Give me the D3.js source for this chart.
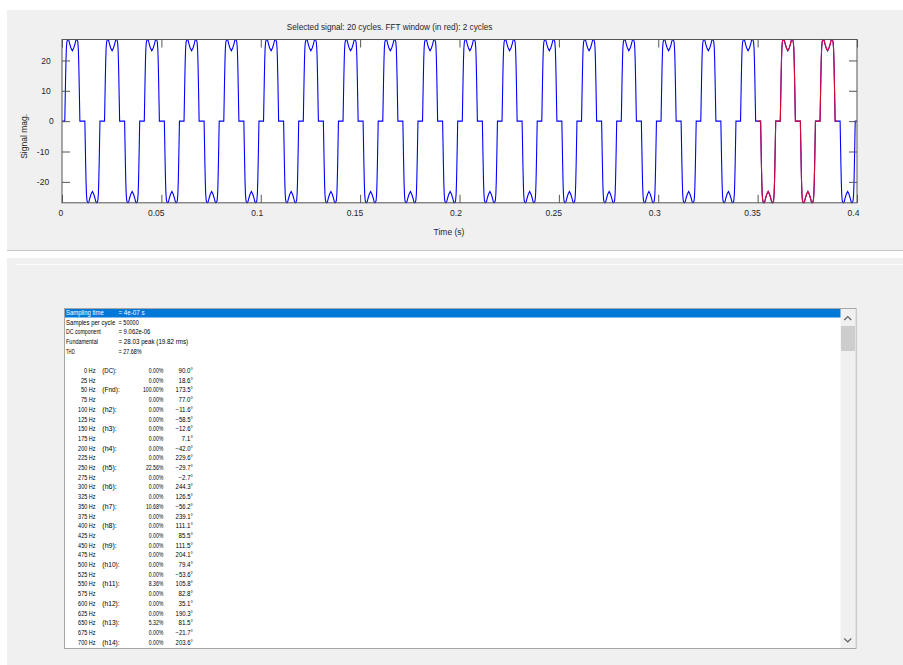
<!DOCTYPE html>
<html>
<head>
<meta charset="utf-8">
<script src="https://cdn.jsdelivr.net/npm/d3@7"></script>
<style>
body { margin: 0; background: #fff; }
svg { display: block; }
text { font-family: "Liberation Sans", Arial, sans-serif; fill: #262626; }
.lb text { font-family: "Liberation Sans", Arial, sans-serif; fill: #000; }
</style>
</head>
<body>
<script>
// one 50 Hz cycle: time into the cycle (ms) and value
var cycleMs  = [0, 1.4, 1.6, 1.8, 2.0, 2.2, 2.45, 2.8, 3.15, 3.5, 3.9, 4.5, 5.2, 5.9, 6.5, 6.9, 7.25, 7.6, 7.95, 8.2, 8.4, 8.6, 8.8, 9.0,
                10,
                11.5, 11.7, 11.9, 12.1, 12.3, 12.55, 12.9, 13.25, 13.6, 14.0, 14.6, 15.3, 16.0, 16.6, 17.0, 17.35, 17.7, 18.05, 18.3, 18.5, 18.7, 18.9, 19.1,
                20];
var cycleVal = [0, 0, 7, 14, 20, 24, 26.1, 26.8, 26.9, 26.5, 25.4, 24.1, 23.2, 24.1, 25.4, 26.5, 26.9, 26.8, 26.1, 24, 20, 14, 7, 0,
                0,
                0, -7, -14, -20, -24, -26.1, -26.8, -26.9, -26.5, -25.4, -24.1, -23.2, -24.1, -25.4, -26.5, -26.9, -26.8, -26.1, -24, -20, -14, -7, 0,
                0];
// start time of each of the 20 selected cycles (s)
var cycleStarts = [0, 0.02, 0.04, 0.06, 0.08, 0.10, 0.12, 0.14, 0.16, 0.18,
                   0.20, 0.22, 0.24, 0.26, 0.28, 0.30, 0.32, 0.34, 0.36, 0.38];
var fftWindow = [0.35, 0.39];

var xTicks = [0, 0.05, 0.1, 0.15, 0.2, 0.25, 0.3, 0.35, 0.4];
var yTicks = [-20, -10, 0, 10, 20];
var titleText = "Selected signal: 20 cycles. FFT window (in red): 2 cycles";

// listbox contents
var headerLabels = ["Sampling time", "Samples per cycle", "DC component", "Fundamental", "THD"];
var headerValues = ["= 4e-07 s", "= 50000", "= 9.062e-06", "= 28.03 peak (19.82 rms)", "= 27.68%"];
var freqs = [0, 25, 50, 75, 100, 125, 150, 175, 200, 225, 250, 275, 300, 325, 350,
             375, 400, 425, 450, 475, 500, 525, 550, 575, 600, 625, 650, 675, 700];
var harmLabels = ["(DC):", "", "(Fnd):", "", "(h2):", "", "(h3):", "", "(h4):", "", "(h5):", "", "(h6):", "", "(h7):",
                  "", "(h8):", "", "(h9):", "", "(h10):", "", "(h11):", "", "(h12):", "", "(h13):", "", "(h14):"];
var magPct = [0, 0, 100, 0, 0, 0, 0, 0, 0, 0, 22.56, 0, 0, 0, 10.68,
              0, 0, 0, 0, 0, 0, 0, 8.36, 0, 0, 0, 5.32, 0, 0];
var phaseDeg = [90.0, 18.6, 173.5, 77.0, -11.6, -58.5, -12.6, 7.1, -42.0, 229.6, -29.7, -2.7, 244.3, 126.5, -56.2,
                239.1, 111.1, 85.5, 111.5, 204.1, 79.4, -53.6, 105.8, 82.8, 35.1, 190.3, 81.5, -21.7, 203.6];

var W = 903, H = 665;
var svg = d3.select("body").append("svg").attr("width", W).attr("height", H);

// window panels
svg.append("rect").attr("x", 7).attr("y", 10).attr("width", W - 7).attr("height", 240).attr("fill", "#f0f0f0");
svg.append("line").attr("x1", 7).attr("x2", W).attr("y1", 250.5).attr("y2", 250.5).attr("stroke", "#c8c8c8");
svg.append("rect").attr("x", 7).attr("y", 258).attr("width", W - 7).attr("height", H - 258).attr("fill", "#f0f0f0");
svg.append("line").attr("x1", 15).attr("x2", W).attr("y1", 264.5).attr("y2", 264.5).attr("stroke", "#fbfbfb");

// axes
var ax = {left: 62, right: 857, top: 39.5, bottom: 202.8};
var x = d3.scaleLinear().domain([0, 0.4]).range([ax.left, ax.right]);
var y = d3.scaleLinear().domain([-26.9, 26.9]).range([ax.bottom, ax.top]);

svg.append("rect").attr("x", ax.left).attr("y", ax.top)
    .attr("width", ax.right - ax.left).attr("height", ax.bottom - ax.top).attr("fill", "#fff");

var signal = [];
cycleStarts.forEach(function(t0) {
    cycleMs.forEach(function(ms, i) {
        signal.push({t: t0 + ms / 1000, v: cycleVal[i]});
    });
});
var windowed = signal.filter(function(d) { return d.t >= fftWindow[0] - 1e-9 && d.t <= fftWindow[1] + 1e-9; });

svg.append("clipPath").attr("id", "clip").append("rect")
    .attr("x", ax.left).attr("y", ax.top - 1).attr("width", ax.right - ax.left).attr("height", ax.bottom - ax.top + 2);

var line = d3.line().x(function(d) { return x(d.t); }).y(function(d) { return y(d.v); });

var plot = svg.append("g").attr("clip-path", "url(#clip)");
plot.append("path").datum(signal).attr("d", line)
    .attr("fill", "none").attr("stroke", "#0000ff").attr("stroke-width", 1.1);
plot.append("path").datum(windowed).attr("d", line)
    .attr("fill", "none").attr("stroke", "#dc0a32").attr("stroke-width", 1.1);

// ticks on all four sides, pointing inward
var fmt = function(d) { return String(d); };
function styleAxis(g) {
    g.select(".domain").remove();
    g.selectAll(".tick line").attr("stroke", "#555");
    g.selectAll("text").attr("font-size", 8.5).attr("fill", "#262626").attr("font-family", null);
}
var gx = svg.append("g").attr("transform", "translate(0," + ax.bottom + ")")
    .call(d3.axisBottom(x).tickValues(xTicks).tickSize(-8).tickPadding(7.2).tickFormat(fmt))
    .call(styleAxis);
svg.append("g").attr("transform", "translate(0," + ax.top + ")")
    .call(d3.axisTop(x).tickValues(xTicks).tickSize(-8).tickFormat(""))
    .call(styleAxis);
var gy = svg.append("g").attr("transform", "translate(" + ax.left + ",0)")
    .call(d3.axisLeft(y).tickValues(yTicks).tickSize(-8).tickFormat(fmt))
    .call(styleAxis);
svg.append("g").attr("transform", "translate(" + ax.right + ",0)")
    .call(d3.axisRight(y).tickValues(yTicks).tickSize(-8).tickFormat(""))
    .call(styleAxis);

// centred labels sit a little left of centre in the original
gx.selectAll(".tick text").attr("dx", function() { return -0.34 * this.getComputedTextLength(); });
gy.selectAll(".tick text").attr("x", function() { return 56.5 - ax.left - 0.6 * this.getComputedTextLength(); });

svg.append("rect").attr("x", ax.left).attr("y", ax.top)
    .attr("width", ax.right - ax.left).attr("height", ax.bottom - ax.top)
    .attr("fill", "none").attr("stroke", "#555").attr("stroke-width", 1);

var cx = (ax.left + ax.right) / 2, cy = (ax.top + ax.bottom) / 2;
var title = svg.append("text").attr("x", cx).attr("y", 30).attr("font-size", 8.2)
    .attr("text-anchor", "middle").text(titleText);
title.attr("dx", -0.34 * title.node().getComputedTextLength());

var xl = svg.append("text").attr("x", cx).attr("y", 235).attr("font-size", 8.5)
    .attr("text-anchor", "middle").text("Time (s)");
xl.attr("dx", -0.34 * xl.node().getComputedTextLength());

var yl = svg.append("text").attr("transform", "translate(27," + cy + ") rotate(-90)").attr("font-size", 8.5)
    .attr("text-anchor", "middle").text("Signal mag.");
yl.attr("dx", -0.34 * yl.node().getComputedTextLength());

// listbox
var lb = {left: 64.5, right: 856, top: 308.5, bottom: 648.5, sb: 15.5};
var g = svg.append("g").attr("class", "lb");
g.append("rect").attr("x", lb.left).attr("y", lb.top).attr("width", lb.right - lb.left).attr("height", lb.bottom - lb.top)
    .attr("fill", "#fff").attr("stroke", "#a6a6a6");
g.append("rect").attr("x", lb.right - lb.sb).attr("y", lb.top + 0.5).attr("width", lb.sb - 0.5).attr("height", lb.bottom - lb.top - 1)
    .attr("fill", "#f0f0f0");
g.append("rect").attr("x", lb.right - lb.sb + 0.5).attr("y", 326).attr("width", lb.sb - 1.5).attr("height", 25)
    .attr("fill", "#cdcdcd");
var ac = lb.right - lb.sb / 2 - 0.5;
g.append("path").attr("d", "M" + (ac - 3.5) + ",320 L" + ac + ",316.5 L" + (ac + 3.5) + ",320")
    .attr("fill", "none").attr("stroke", "#606060").attr("stroke-width", 1.2);
g.append("path").attr("d", "M" + (ac - 3.5) + ",638.5 L" + ac + ",642 L" + (ac + 3.5) + ",638.5")
    .attr("fill", "none").attr("stroke", "#606060").attr("stroke-width", 1.2);
g.append("rect").attr("x", lb.left + 0.5).attr("y", lb.top + 0.5).attr("width", lb.right - lb.sb - lb.left - 0.5).attr("height", 8.5)
    .attr("fill", "#0078d7");

var rowY = function(i) { return 314.8 + i * 9.7; };
var charW = 2.9;
function cell(str, xpos, i, anchor, fill) {
    if (!str) return;
    g.append("text").attr("x", xpos).attr("y", rowY(i)).attr("font-size", 6.3)
        .attr("text-anchor", anchor || "start")
        .attr("textLength", str.length * charW).attr("lengthAdjust", "spacingAndGlyphs")
        .style("fill", fill || "#000").text(str);
}
headerLabels.forEach(function(s, i) {
    var f = i === 0 ? "#fff" : "#000";
    cell(s, 66, i, "start", f);
    cell(headerValues[i], 118.5, i, "start", f);
});
var fmtPhase = function(p) { return (p < 0 ? "\u2212" : "") + Math.abs(p).toFixed(1) + "\u00b0"; };
freqs.forEach(function(f, k) {
    var i = k + 6;
    cell(f + " Hz", 95.5, i, "end");
    cell(harmLabels[k], 102.3, i, "start");
    cell(magPct[k].toFixed(2) + "%", 163.3, i, "end");
    cell(fmtPhase(phaseDeg[k]), 193, i, "end");
});
</script>
</body>
</html>
